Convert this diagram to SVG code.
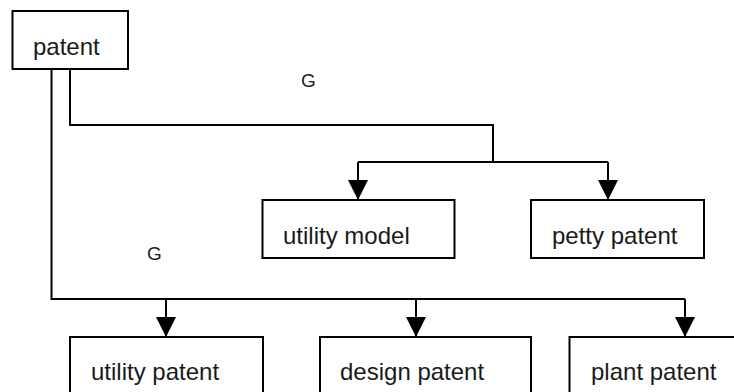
<svg xmlns="http://www.w3.org/2000/svg" width="734" height="392" viewBox="0 0 734 392">
<style>
.box{fill:#fff;stroke:#000;stroke-width:2}
.lbl{font-family:"Liberation Sans",Arial,sans-serif;font-size:24px;fill:#1a1a1a}
.g{font-family:"Liberation Sans",Arial,sans-serif;font-size:19px;fill:#1a1a1a}
.conn{fill:none;stroke:#000;stroke-width:2}
</style>
<defs>
<marker id="arr" markerUnits="userSpaceOnUse" markerWidth="20" markerHeight="20" refX="19" refY="9.5" orient="auto" viewBox="0 0 19 19">
<path d="M0,0 L19,9.5 L0,19 z" fill="#000"/>
</marker>
</defs>
<rect width="734" height="392" fill="#fff"/>
<g id="connectors">
<path class="conn" d="M51.5 69 V299 H685"/>
<path class="conn" d="M166 299 V337" marker-end="url(#arr)"/>
<path class="conn" d="M416 299 V337" marker-end="url(#arr)"/>
<path class="conn" d="M685 299 V337" marker-end="url(#arr)"/>
<path class="conn" d="M70 69 V125 H493 V162"/>
<path class="conn" d="M358 162 H608"/>
<path class="conn" d="M358 162 V200" marker-end="url(#arr)"/>
<path class="conn" d="M608 162 V200" marker-end="url(#arr)"/>
</g>
<g id="label-g1"><text class="g" x="301" y="87">G</text></g>
<g id="label-g2"><text class="g" x="147" y="260">G</text></g>
<g id="node-patent">
<rect class="box" x="12.5" y="11" width="115.5" height="58"/>
<text class="lbl" x="33" y="55">patent</text>
</g>
<g id="node-utility-model">
<rect class="box" x="262.5" y="200" width="192" height="58"/>
<text class="lbl" x="283" y="244">utility model</text>
</g>
<g id="node-petty-patent">
<rect class="box" x="531" y="200" width="173" height="58"/>
<text class="lbl" x="552" y="244">petty patent</text>
</g>
<g id="node-utility-patent">
<rect class="box" x="70" y="337" width="193" height="70"/>
<text class="lbl" x="91" y="380">utility patent</text>
</g>
<g id="node-design-patent">
<rect class="box" x="320" y="337" width="211" height="70"/>
<text class="lbl" x="340" y="380">design patent</text>
</g>
<g id="node-plant-patent">
<rect class="box" x="569.5" y="337" width="193" height="70"/>
<text class="lbl" x="591" y="380">plant patent</text>
</g>
</svg>
